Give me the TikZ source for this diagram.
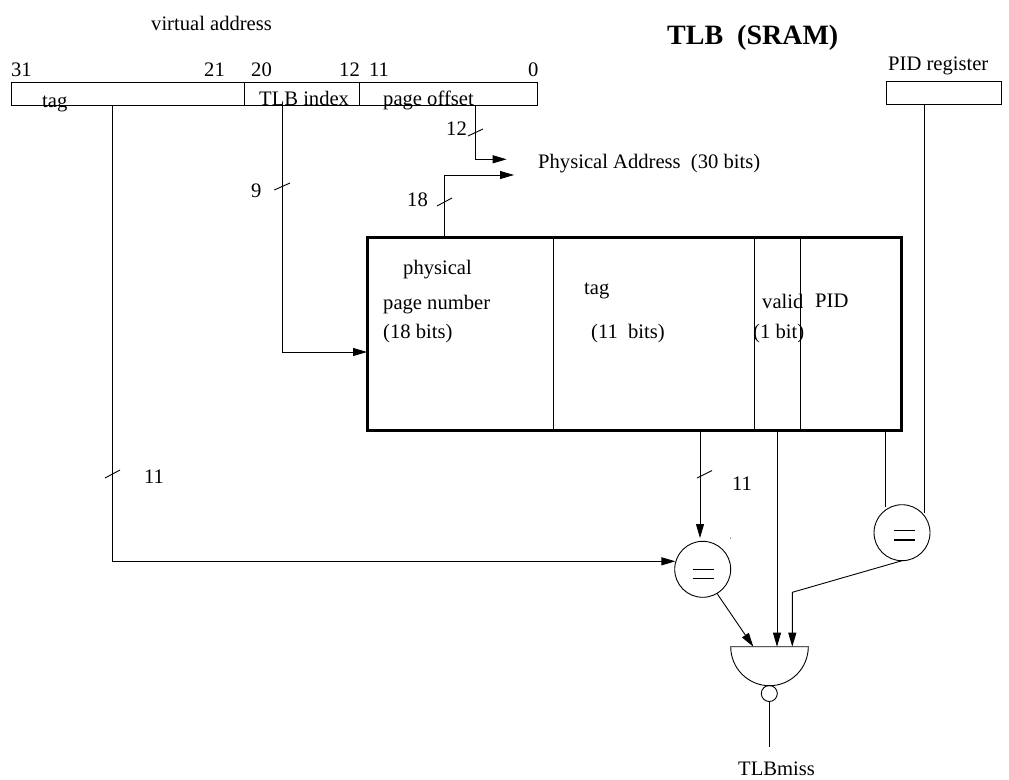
\documentclass[tikz,border=0pt]{standalone}
\usepackage{fontspec}
\setmainfont{Liberation Serif}
\usetikzlibrary{arrows.meta,calc}
\tikzset{
  wire/.style={draw=black,line width=0.9pt},
  arrowwire/.style={wire,-{Triangle[length=14pt,width=8pt]}},
  field/.style={draw=black,line width=0.9pt,rectangle,inner sep=0pt,outer sep=0pt},
  lbl/.style={anchor=base west,inner sep=0pt,font=\fontsize{20.6}{24}\selectfont},
  eqgate/.style={draw=black,line width=0.9pt,circle,minimum size=56pt,inner sep=0pt,outer sep=0pt},
  bubble/.style={draw=black,line width=0.9pt,circle,minimum size=16pt,inner sep=0pt,outer sep=0pt}
}
\begin{document}
\begin{tikzpicture}[x=1pt,y=-1pt]
\useasboundingbox (0,0) rectangle (1009,779);
% address register
\node[field,minimum width=233pt,minimum height=23pt] (tagf) at (127.5,93.5) {};
\node[field,minimum width=115pt,minimum height=23pt] (idxf) at (301.5,93.5) {};
\node[field,minimum width=178pt,minimum height=23pt] (offf) at (448,93.5) {};
\node[field,minimum width=115pt,minimum height=23pt] (pidreg) at (943.5,93) {};
% TLB table
\node[draw=black,line width=3pt,rectangle,minimum width=534pt,minimum height=193pt,inner sep=0pt,outer sep=0pt] (tlb) at (634,333.5) {};
\draw[wire] (553,237) -- (553,430);
\draw[wire] (754,237) -- (754,430);
\draw[wire] (800,237) -- (800,430);
% labels
\node[lbl] (va) at (151,30.5) {virtual address};
\node[lbl,font=\fontsize{28}{32}\selectfont\bfseries] (title) at (667,44) {TLB\ \ (SRAM)};
\node[lbl] (pidl) at (888,70) {PID register};
\node[lbl] (n31) at (11,76) {31};
\node[lbl] (n21) at (204,76) {21};
\node[lbl] (n20) at (251,76) {20};
\node[lbl] (n12) at (339,76) {12};
\node[lbl] (n11) at (369,76) {11};
\node[lbl] (n0) at (528,76) {0};
\node[lbl] (ltag) at (42,107) {tag};
\node[lbl] (lidx) at (259,105.5) {TLB index};
\node[lbl] (loff) at (383,105.5) {page offset};
\node[lbl] (phys) at (538,168.5) {Physical Address\ \ (30 bits)};
\node[lbl] (l12) at (446,135.5) {12};
\node[lbl] (l18) at (407,206) {18};
\node[lbl] (l9) at (251,197) {9};
\node[lbl] (l11a) at (144,483) {11};
\node[lbl] (l11b) at (732,490) {11};
\node[lbl] (t1) at (403,274) {physical};
\node[lbl] (t2) at (383,309) {page number};
\node[lbl] (t3) at (383,338) {(18 bits)};
\node[lbl] (t4) at (584,294) {tag};
\node[lbl] (t5) at (591,338) {(11\ \ bits)};
\node[lbl] (t6) at (762,308.5) {valid};
\node[lbl] (t7) at (815,307) {PID};
\node[lbl] (t8) at (753,338) {(1 bit)};
\node[lbl] (miss) at (738,775) {TLBmiss};
% comparators
\node[eqgate] (eq1) at (702.7,569.3) {};
\node[eqgate] (eq2) at (902,532.7) {};
\draw[line width=1.4pt] (eq1.center) ++(-10,0) -- ++(21.3,0) ++(-21.3,9.4) -- ++(21.3,0);
\draw[line width=1.4pt] (eq2.center) ++(-8,-2) -- ++(21.3,0) ++(-21.3,9.3) -- ++(21.3,0);
% NOR gate
\node[inner sep=0pt,outer sep=0pt,minimum width=77.6pt,minimum height=39pt] (gate) at (769.5,666.2) {};
\draw[wire] (gate.north west) -- (gate.north east) arc[start angle=0,end angle=-180,x radius=38.8,y radius=-39] -- cycle;
\node[bubble] (bub) at (769.3,693.5) {};
\coordinate (missend) at (769.3,746.7);
\draw[wire] (bub.south) -- (missend);
% connectors
\draw[arrowwire] (tagf.south west) ++(101,0) |- ($(eq1.west)+(0.7,-8)$);
\draw[arrowwire] (idxf.south west) ++(38.3,0) |- (tlb.west |- 0,352);
\coordinate (pa1) at (506.7,159.3);
\coordinate (pa2) at (514,175);
\draw[arrowwire] (offf.south west) ++(116.7,0) |- (pa1);
\draw[arrowwire] (tlb.north west) ++(77.3,0) |- (pa2);
\draw[arrowwire] (tlb.south west) ++(333,0) -- ($(eq1.north)+(-2.7,-3.3)$);
\draw[arrowwire] (tlb.south west) ++(410,0) -- (gate.north west -| 777,0);
\draw[wire] (tlb.south west) ++(518.7,0) -- ($(eq2.west)+(11.7,-25.7)$);
\draw[wire] (pidreg.south west) ++(38,0) -- ($(eq2.east)+(-6,-19.7)$);
\draw[arrowwire] (eq2.south) -- (792.3,592.3) -- (792.3,646.7);
\draw[arrowwire] ($(eq1.center)+(14,23.7)$) -- (753.3,646.7);
% bus slashes
\coordinate (s1a) at (105,478); \coordinate (s1b) at (120,470);
\coordinate (s2a) at (274.3,190); \coordinate (s2b) at (290,183);
\coordinate (s3a) at (468,136); \coordinate (s3b) at (483,129);
\coordinate (s4a) at (437,206); \coordinate (s4b) at (452,198);
\coordinate (s5a) at (697,478); \coordinate (s5b) at (712,470.5);
\draw[wire] (s1a) -- (s1b);
\draw[wire] (s2a) -- (s2b);
\draw[wire] (s3a) -- (s3b);
\draw[wire] (s4a) -- (s4b);
\draw[wire] (s5a) -- (s5b);
\fill (730.7,538) circle[radius=0.5];
\end{tikzpicture}
\end{document}
